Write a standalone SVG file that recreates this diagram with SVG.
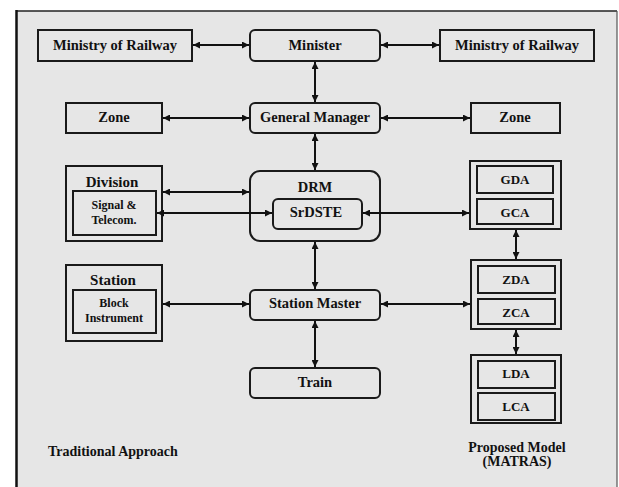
<svg xmlns="http://www.w3.org/2000/svg" width="619" height="487" viewBox="0 0 619 487">
<defs>
<marker id="ah" viewBox="0 0 8 8" refX="8" refY="4" markerWidth="7" markerHeight="7" markerUnits="userSpaceOnUse" orient="auto-start-reverse">
<path d="M0,0 L8,4 L0,8 Z" fill="#111"/>
</marker>
<style>
.b{fill:#e6e6e6;stroke:#1a1a1a;stroke-width:2}
.i{fill:#e6e6e6;stroke:#1a1a1a;stroke-width:2}
.t{font-family:"Liberation Serif","Times New Roman",serif;font-weight:bold;font-size:14.5px;fill:#111;text-anchor:middle}
.s{font-size:12px}
.m{font-size:13px}
.c{fill:none;stroke:#111;stroke-width:2;marker-start:url(#ah);marker-end:url(#ah)}
</style>
</defs>
<rect x="0" y="0" width="619" height="487" fill="#ffffff"/>
<rect x="16" y="11" width="601" height="480" fill="#e6e6e6"/>
<line x1="16" y1="11" x2="617" y2="11" stroke="#222" stroke-width="1.5"/>
<line x1="16.5" y1="10" x2="16.5" y2="487" stroke="#111" stroke-width="2.5"/>
<line x1="617" y1="11" x2="617" y2="487" stroke="#555" stroke-width="1.2"/>

<g id="ministry-left"><rect class="b" x="38" y="30" width="154" height="31"/><text class="t" x="115" y="50">Ministry of Railway</text></g>
<g id="minister"><rect class="b" x="250" y="30" width="130" height="31" rx="5"/><text class="t" x="315" y="50">Minister</text></g>
<g id="ministry-right"><rect class="b" x="440" y="30" width="154" height="31"/><text class="t" x="517" y="50">Ministry of Railway</text></g>

<g id="zone-left"><rect class="b" x="66" y="103" width="96" height="30"/><text class="t" x="114" y="122">Zone</text></g>
<g id="general-manager"><rect class="b" x="250" y="103" width="130" height="30" rx="5"/><text class="t" x="315" y="122">General Manager</text></g>
<g id="zone-right"><rect class="b" x="471" y="103" width="89" height="30"/><text class="t" x="515" y="122">Zone</text></g>

<g id="division"><rect class="b" x="66" y="166" width="96" height="75"/><text class="t" x="112" y="187" style="font-size:15px">Division</text>
<rect class="i" x="73" y="191" width="83" height="44"/><text class="t s" x="114" y="209">Signal &amp;</text><text class="t s" x="114" y="224">Telecom.</text></g>

<g id="drm"><rect class="b" x="250" y="171" width="130" height="70" rx="10"/><text class="t" x="315" y="192">DRM</text>
<rect class="i" x="273" y="199" width="89" height="30" rx="5"/><text class="t" x="316" y="217">SrDSTE</text></g>

<g id="gda-gca"><rect class="b" x="470" y="161" width="91" height="68"/>
<rect class="i" x="477" y="166" width="76" height="27"/><text class="t m" x="515" y="184">GDA</text>
<rect class="i" x="477" y="199" width="76" height="25"/><text class="t m" x="515" y="217">GCA</text></g>

<g id="station"><rect class="b" x="66" y="265" width="96" height="76"/><text class="t" x="113" y="285" style="font-size:15px">Station</text>
<rect class="i" x="73" y="290" width="83" height="43"/><text class="t s" x="114" y="307">Block</text><text class="t s" x="114" y="322">Instrument</text></g>

<g id="station-master"><rect class="b" x="250" y="290" width="130" height="30" rx="5"/><text class="t" x="315" y="308">Station Master</text></g>

<g id="zda-zca"><rect class="b" x="471" y="260" width="90" height="69"/>
<rect class="i" x="478" y="266" width="77" height="27"/><text class="t m" x="516" y="284">ZDA</text>
<rect class="i" x="478" y="299" width="77" height="25"/><text class="t m" x="516" y="317">ZCA</text></g>

<g id="train"><rect class="b" x="250" y="368" width="130" height="30" rx="5"/><text class="t" x="315" y="387">Train</text></g>

<g id="lda-lca"><rect class="b" x="471" y="355" width="90" height="68"/>
<rect class="i" x="478" y="361" width="77" height="27"/><text class="t m" x="516" y="378">LDA</text>
<rect class="i" x="478" y="393" width="77" height="27"/><text class="t m" x="516" y="411">LCA</text></g>

<g id="connectors">
<line class="c" x1="193" y1="45" x2="249" y2="45"/>
<line class="c" x1="381" y1="45" x2="439" y2="45"/>
<line class="c" x1="315" y1="62" x2="315" y2="102"/>
<line class="c" x1="163" y1="118" x2="249" y2="118"/>
<line class="c" x1="381" y1="118" x2="470" y2="118"/>
<line class="c" x1="315" y1="134" x2="315" y2="170"/>
<line class="c" x1="163" y1="192" x2="249" y2="192"/>
<line class="c" x1="157" y1="213" x2="272" y2="213"/>
<line class="c" x1="363" y1="213" x2="469" y2="213"/>
<line class="c" x1="315" y1="242" x2="315" y2="289"/>
<line class="c" x1="163" y1="304" x2="249" y2="304"/>
<line class="c" x1="381" y1="304" x2="470" y2="304"/>
<line class="c" x1="315" y1="321" x2="315" y2="367"/>
<line class="c" x1="516" y1="230" x2="516" y2="259"/>
<line class="c" x1="516" y1="330" x2="516" y2="354"/>
</g>

<text class="t" x="48" y="456" style="text-anchor:start;font-size:14px">Traditional Approach</text>
<text class="t" x="517" y="452" style="font-size:14px">Proposed Model</text>
<text class="t" x="517" y="466" style="font-size:14px">(MATRAS)</text>
</svg>
